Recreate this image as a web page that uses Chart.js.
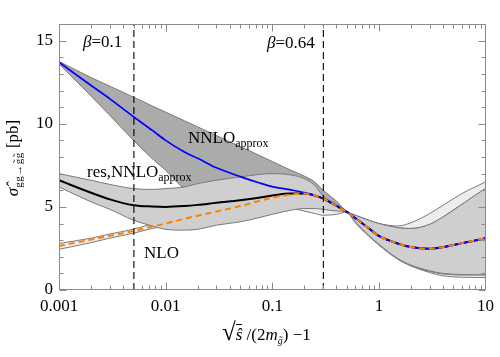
<!DOCTYPE html>
<html><head><meta charset="utf-8">
<script src="https://cdn.jsdelivr.net/npm/chart.js@4/dist/chart.umd.min.js"></script>
<style>
html,body{margin:0;padding:0;background:#fff;}
#wrap{position:relative;width:500px;height:357px;overflow:hidden;font-family:"Liberation Serif","DejaVu Serif",serif;color:#000;}
#c{position:absolute;left:0;top:0;}
.lbl{position:absolute;white-space:nowrap;font-size:17px;line-height:17px;}
.sub{font-size:12px;position:relative;top:4px;}
</style></head>
<body><div id="wrap"><canvas id="c" width="500" height="357"></canvas>
<div class="lbl" style="left:83px;top:33px"><i>β</i>=0.1</div>
<div class="lbl" style="left:267px;top:34px"><i>β</i>=0.64</div>
<div class="lbl" style="left:188px;top:129px">NNLO<span class="sub">approx</span></div>
<div class="lbl" style="left:87px;top:163px">res,NNLO<span class="sub">approx</span></div>
<div class="lbl" style="left:144px;top:244px">NLO</div>
<div class="lbl" style="left:13px;top:158px;transform:translate(-50%,-50%) rotate(-90deg);"><i>σ̂</i><span style="font-size:11px;position:relative;top:4px;letter-spacing:0.5px">gg→g̃g̃</span> [pb]</div>
<div class="lbl" style="left:222px;top:323px"><span style="font-size:25px">√</span><span style="border-top:1px solid #000;"><i>ŝ</i></span> /(2<i>m</i><span class="sub" style="font-size:10px"><i>g̃</i></span>) −1</div>
</div>
<script>
// x grid (sqrt(s)/(2m) - 1)
const X = [0.001,0.002,0.003,0.005,0.0075,0.01,0.015,0.02,0.03,0.05,0.075,0.1,0.15,0.2,0.25,0.3,0.4,0.5,0.6,0.8,1,1.5,2,3,4,6,8,10];
// NNLO_approx central (blue)
const nnloCentral = [13.7,12.3,11.5,10.42,9.6,9.0,8.3,7.92,7.35,6.82,6.45,6.22,6.02,5.86,5.7,5.5,5.06,4.7,4.33,3.72,3.25,2.8,2.58,2.48,2.58,2.82,2.98,3.12];
const nnloUpper = [13.75,12.78,12.26,11.6,11.07,10.7,10.18,9.81,9.29,8.63,8.11,7.73,7.2,6.85,6.5,6.0,5.35,4.72,4.5,4.2,4.0,3.75,3.7,3.95,4.4,5.15,5.7,6.1];
const nnloLower = [13.6,11.66,10.5,9.0,7.9,7.2,6.1,5.9,5.9,5.9,5.9,5.9,5.6,5.2,5.0,4.9,4.8,4.7,4.05,3.25,2.7,1.85,1.45,1.12,0.96,0.9,0.9,0.9];
// res,NNLO_approx (black)
const resCentral = [6.6,5.85,5.45,5.1,5.02,5.0,5.05,5.12,5.25,5.4,5.55,5.68,5.8,5.8,5.68,5.5,5.06,4.7,4.33,3.72,3.25,2.8,2.58,2.48,2.58,2.82,2.98,3.12];
const resUpper = [7.0,6.6,6.35,6.1,6.05,6.1,6.2,6.4,6.6,6.8,6.95,7.0,6.92,6.7,6.3,5.65,5.15,4.72,4.5,4.2,4.0,3.75,3.7,3.95,4.4,5.15,5.7,6.1];
const resLower = [6.2,5.3,4.85,4.2,3.85,3.65,3.6,3.65,3.9,4.1,4.35,4.55,4.8,4.9,4.9,4.85,4.75,4.7,4.1,3.3,2.75,1.9,1.5,1.15,1.0,0.93,0.92,0.92];
// NLO (orange dashed)
const nloCentral = [2.65,3.03,3.26,3.55,3.82,4.0,4.28,4.47,4.72,5.05,5.35,5.55,5.74,5.8,5.7,5.5,5.06,4.7,4.33,3.72,3.25,2.8,2.58,2.48,2.58,2.82,2.98,3.12];
const nloUpper = [2.8,3.12,3.37,3.66,3.97,4.15,4.45,4.65,4.95,5.3,5.65,5.9,6.1,6.05,5.85,5.6,5.1,4.72,4.5,4.2,4.0,3.85,4.05,4.6,5.1,5.8,6.2,6.5];
const nloLower = [2.45,2.85,3.12,3.42,3.7,3.85,4.1,4.3,4.5,4.75,4.9,4.95,4.9,4.75,4.6,4.5,4.55,4.7,4.1,3.3,2.75,1.9,1.45,1.05,0.85,0.77,0.75,0.75];
// beta = 0.1 and beta = 0.64 markers
const betaX = [0.00504, 0.3015];
// tick labels
const xTickValues = [0.001,0.01,0.1,1,10];
const xTickLabels = ['0.001','0.01','0.1','1','10'];
const yTickValues = [0,5,10,15];
const yTickLabels = ['0','5','10','15'];

const pts = a => X.map((x,i)=>({x:x,y:a[i]}));
const edge = '#7a7a7a';
const FONT = {family:'"Liberation Serif","DejaVu Serif",serif', size:17};

const framePlugin = {
  id:'frame',
  afterDatasetsDraw(chart){
    const ctx = chart.ctx, a = chart.chartArea, xs = chart.scales.x, ys = chart.scales.y;
    ctx.save();
    ctx.strokeStyle = '#8a8a8a'; ctx.lineWidth = 1;
    const L = Math.round(a.left)+0.5, R = Math.round(a.right)-0.5, T = Math.round(a.top)+0.5, B = Math.round(a.bottom)-0.5;
    ctx.beginPath();
    ctx.rect(L, T, R-L, B-T);
    for(let v=0; v<=16; v++){
      const p = Math.round(ys.getPixelForValue(v))+0.5;
      const len = (v%5===0)?7:4;
      ctx.moveTo(L,p); ctx.lineTo(L+len,p);
      ctx.moveTo(R,p); ctx.lineTo(R-len,p);
    }
    for(let d=-3; d<=0; d++){
      for(let k=1;k<=9;k++){
        const v = k*Math.pow(10,d);
        const p = Math.round(xs.getPixelForValue(v))+0.5;
        const len = (k===1)?7:4;
        ctx.moveTo(p,B); ctx.lineTo(p,B-len);
        ctx.moveTo(p,T); ctx.lineTo(p,T+len);
      }
    }
    ctx.stroke();
    ctx.restore();
  }
};

new Chart(document.getElementById('c'), {
  type:'line',
  data:{datasets:[
    {data:pts(nloLower), borderColor:edge, borderWidth:1, fill:false, order:9},
    {data:pts(nloUpper), borderColor:edge, borderWidth:1, fill:0, backgroundColor:'#ededed', order:10},
    {data:pts(nnloLower), borderColor:edge, borderWidth:1, fill:false, order:7},
    {data:pts(nnloUpper), borderColor:edge, borderWidth:1, fill:2, backgroundColor:'#ababab', order:8},
    {data:pts(resLower), borderColor:edge, borderWidth:1, fill:false, order:5},
    {data:pts(resUpper), borderColor:edge, borderWidth:1, fill:4, backgroundColor:'#cfcfcf', order:6},
    {data:[{x:betaX[0],y:0},{x:betaX[0],y:16}], borderColor:'#000', borderWidth:1.1, borderDash:[7,4], fill:false, order:1, cubicInterpolationMode:'default', tension:0},
    {data:[{x:betaX[1],y:0},{x:betaX[1],y:16}], borderColor:'#000', borderWidth:1.1, borderDash:[7,4], fill:false, order:1, cubicInterpolationMode:'default', tension:0},
    {data:pts(resCentral), borderColor:'#000', borderWidth:2, fill:false, order:4},
    {data:pts(nnloCentral), borderColor:'#0000ff', borderWidth:1.7, fill:false, order:3},
    {data:pts(nloCentral), borderColor:'#ff8000', borderWidth:2, borderDash:[6,4], fill:false, order:2}
  ]},
  options:{
    responsive:false, animation:false, devicePixelRatio:1,
    layout:{padding:{left:0,right:10,top:24,bottom:0}},
    elements:{point:{radius:0}, line:{cubicInterpolationMode:'monotone'}},
    plugins:{legend:{display:false}, tooltip:{enabled:false}, filler:{drawTime:'beforeDatasetDraw'}},
    scales:{
      x:{type:'logarithmic', position:'bottom', min:0.001, max:10,
         grid:{display:false, drawTicks:false}, border:{display:false},
         afterBuildTicks:s=>{s.ticks = xTickValues.map(v=>({value:v, major:true}));},
         afterFit:s=>{s.height = 67;},
         ticks:{font:FONT, color:'#000', padding:6, maxRotation:0, autoSkip:false,
                callback:v=>{const i = xTickValues.indexOf(v); return i>=0?xTickLabels[i]:'';}}},
      y:{type:'linear', min:0, max:16,
         grid:{display:false, drawTicks:false}, border:{display:false},
         afterBuildTicks:s=>{s.ticks = yTickValues.map(v=>({value:v}));},
         afterFit:s=>{s.width = 59;},
         ticks:{font:FONT, color:'#000', padding:6,
                callback:v=>{const i = yTickValues.indexOf(v); return i>=0?yTickLabels[i]:'';}}}
    }
  },
  plugins:[framePlugin]
});
</script>
</body></html>
